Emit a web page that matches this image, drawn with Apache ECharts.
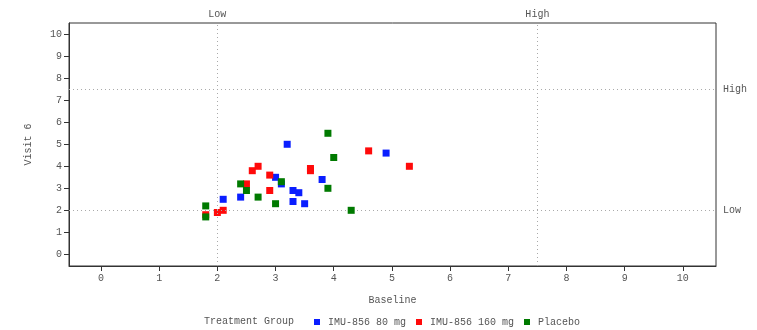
<!DOCTYPE html>
<html><head><meta charset="utf-8">
<script src="https://cdn.jsdelivr.net/npm/echarts@6/dist/echarts.min.js"></script>
<style>html,body{margin:0;padding:0;background:#fff}#c{width:757px;height:330px}</style>
</head><body><div id="c"></div>
<script>
var groupNames = ['IMU-856 80 mg', 'IMU-856 160 mg', 'Placebo'];
var blueData = [[4.9,4.6],[3.2,5.0],[3.8,3.4],[3.0,3.5],[3.1,3.2],[3.3,2.9],[3.4,2.8],[3.3,2.4],[3.5,2.3],[2.4,2.6],[2.1,2.5]];
var redData = [[4.6,4.7],[5.3,4.0],[3.6,3.9],[3.6,3.8],[2.7,4.0],[2.6,3.8],[2.9,3.6],[2.5,3.2],[2.9,2.9],[2.0,1.9],[2.1,2.0],[1.8,1.8]];
var greenData = [[3.9,5.5],[4.0,4.4],[3.9,3.0],[4.3,2.0],[2.4,3.2],[2.5,2.9],[2.7,2.6],[3.0,2.3],[3.1,3.3],[1.8,2.2],[1.8,1.7]];
var xTicks = [0,1,2,3,4,5,6,7,8,9,10];
var yTicks = [0,1,2,3,4,5,6,7,8,9,10];
var xRefLines = [{value:2, label:'Low'},{value:7.5, label:'High'}];
var yRefLines = [{value:2, label:'Low'},{value:7.5, label:'High'}];
var colors = ['#0a1eff','#ff0a0a','#007a00'];

var font = '"Liberation Mono", "DejaVu Sans Mono", monospace';
var txtColor = '#555';
var chart = echarts.init(document.getElementById('c'), null, {renderer:'canvas'});
var refStyle = {color:'#aaaaaa', type:[1,3], width:1};
var markLineData = [];
xRefLines.forEach(function(r){
  markLineData.push({xAxis:r.value, label:{formatter:r.label, position:'end', distance:4}});
});
yRefLines.forEach(function(r){
  markLineData.push({yAxis:r.value, label:{formatter:r.label, position:'end', distance:7}});
});
var datas = [blueData, redData, greenData];
var series = datas.map(function(d, i){
  var s = {
    name: groupNames[i], type:'scatter', data:d, symbol:'rect', symbolSize:7,
    itemStyle:{color:colors[i], opacity:1}, z: 3 + i
  };
  if (i === 0) {
    s.markLine = {silent:true, symbol:'none', lineStyle:refStyle,
      label:{color:txtColor, fontFamily:font, fontSize:10},
      data: markLineData};
  }
  return s;
});
chart.setOption({
  animation:false,
  textStyle:{fontFamily:font},
  grid:{left:69, right:41, top:23, bottom:64, show:true, borderColor:'#333', borderWidth:1},
  legend:{left:309, top:312, itemWidth:6, itemHeight:6, itemGap:10, icon:'rect',
    textStyle:{fontFamily:font, fontSize:10, color:txtColor, padding:[0,0,0,3]},
    data: groupNames},
  graphic:[{type:'text', left:204, top:316, style:{text:'Treatment Group', font:'10px ' + font, fill:txtColor}}],
  xAxis:{type:'value', min:-0.55, max:10.57, name:'Baseline', nameLocation:'middle', nameGap:29,
    nameTextStyle:{fontFamily:font, fontSize:10, color:txtColor},
    axisLine:{show:true, onZero:false, lineStyle:{color:'#333'}},
    axisTick:{show:true, length:5, customValues:xTicks, lineStyle:{color:'#333'}},
    axisLabel:{customValues:xTicks, color:txtColor, fontSize:10, fontFamily:font, margin:7},
    splitLine:{show:false}},
  yAxis:{type:'value', min:-0.53, max:10.51, name:'Visit 6', nameLocation:'middle', nameGap:36,
    nameTextStyle:{fontFamily:font, fontSize:10, color:txtColor},
    axisLine:{show:true, onZero:false, lineStyle:{color:'#333'}},
    axisTick:{show:true, length:5, customValues:yTicks, lineStyle:{color:'#333'}},
    axisLabel:{customValues:yTicks, color:txtColor, fontSize:10, fontFamily:font, margin:7},
    splitLine:{show:false}},
  series: series
});
</script></body></html>
